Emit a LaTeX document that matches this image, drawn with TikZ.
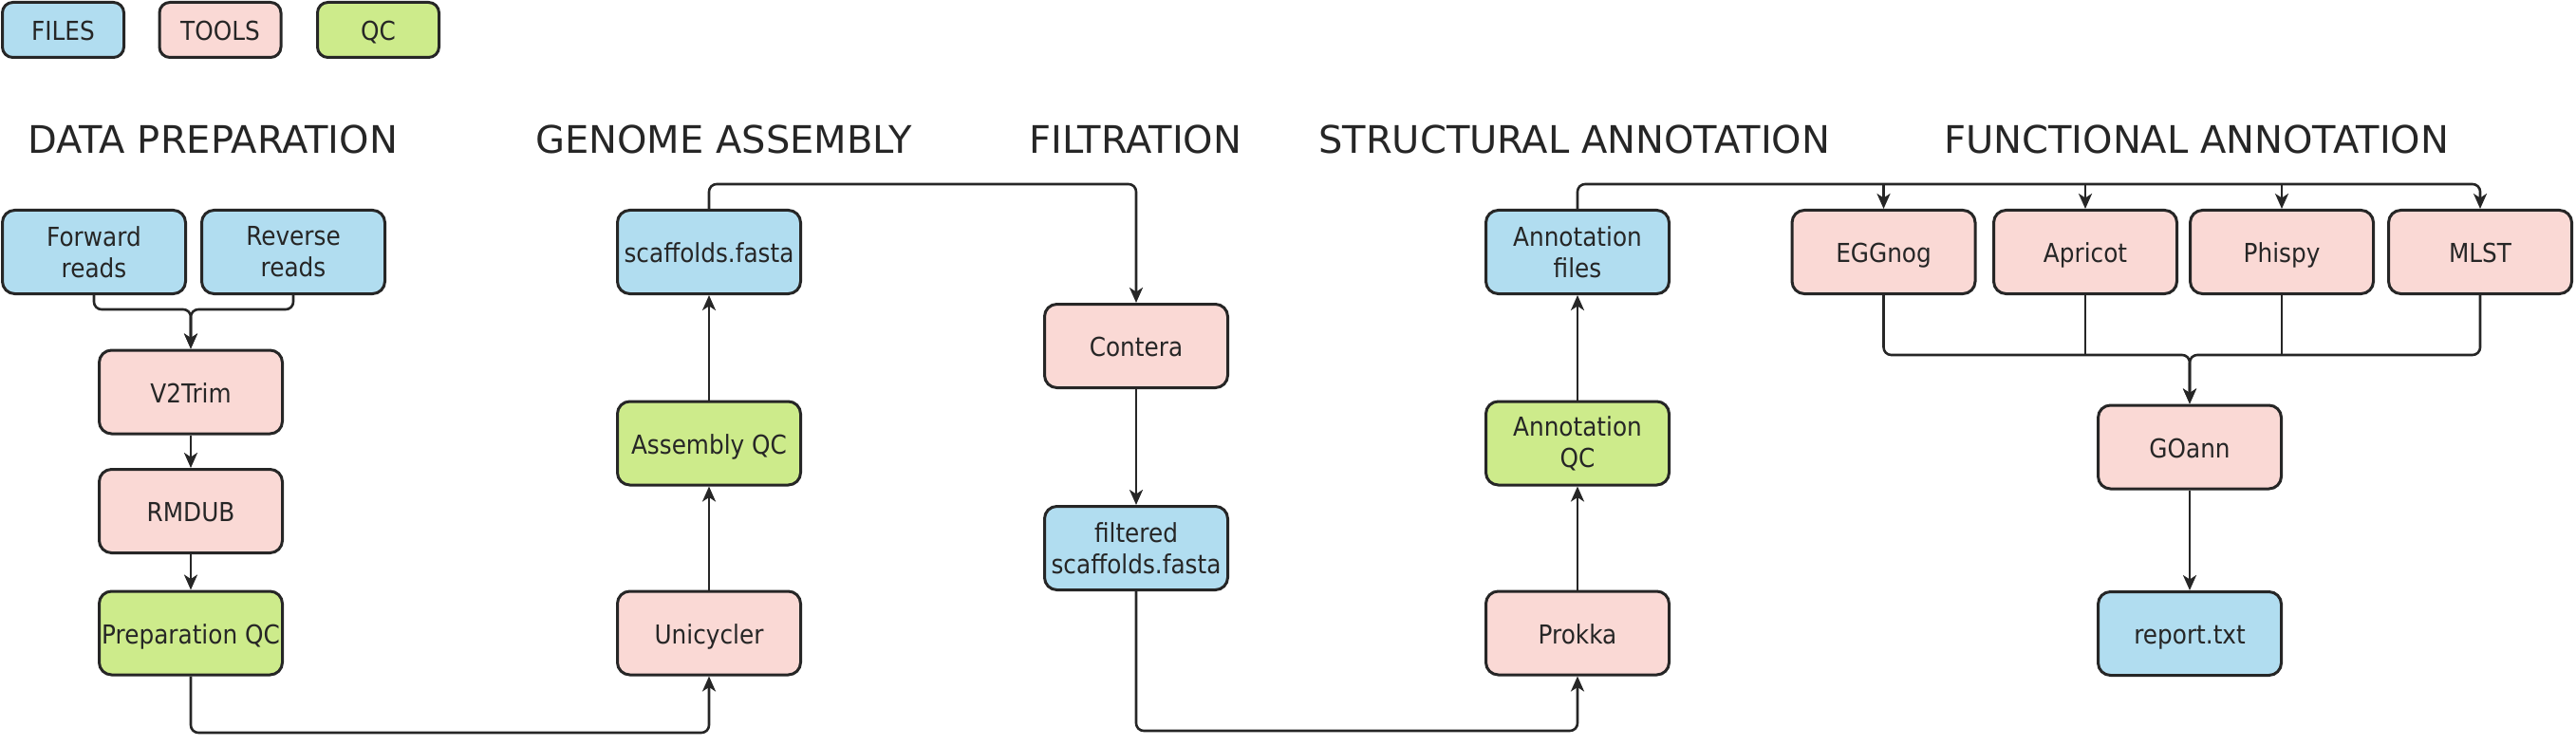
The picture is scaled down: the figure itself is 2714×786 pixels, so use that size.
\documentclass[tikz,border=0pt]{standalone}
\usepackage{fontspec}
\setmainfont{DejaVu Sans}
\newfontfamily\nodefont{DejaVu Sans}[FakeStretch=0.9]
\newfontfamily\headfont{DejaVu Sans}
\usetikzlibrary{arrows.meta}
\definecolor{fileblue}{HTML}{B1DDF0}
\definecolor{toolpink}{HTML}{FAD9D5}
\definecolor{qcgreen}{HTML}{CDEB8B}
\definecolor{linec}{HTML}{262626}
\definecolor{textc}{HTML}{262626}
\tikzset{
  box/.style={draw=linec, line width=3pt, rounded corners=13pt,
    minimum width=193pt, minimum height=88pt, inner sep=0pt, align=center,
    text=textc, font=\nodefont\fontsize{27.5}{33}\selectfont},
  one/.style={text height=23pt, text depth=1pt},
  legbox/.style={box, one, minimum width=128pt, minimum height=58pt, rounded corners=11pt},
  filebox/.style={box, fill=fileblue},
  toolbox/.style={box, fill=toolpink},
  qcbox/.style={box, fill=qcgreen},
  header/.style={anchor=base west, inner sep=0pt, text=textc,
    font=\headfont\fontsize{40}{48}\selectfont},
  conn/.style={draw=linec, line width=2.6pt, rounded corners=8pt},
  arr/.style={conn, -{Stealth[length=16pt,width=14pt,inset=4.5pt]}},
}
\begin{document}
\begin{tikzpicture}[x=1pt,y=-1pt]
\useasboundingbox (0,0) rectangle (2714,786);

% legend
\node[legbox, fill=fileblue] (lfiles) at (66.5,31.5) {FILES};
\node[legbox, fill=toolpink] (ltools) at (232,31.5) {TOOLS};
\node[legbox, fill=qcgreen] (lqc) at (398.5,31.5) {QC};

% headers
\node[header] (h1) at (29,162) {DATA PREPARATION};
\node[header] (h2) at (564,162) {GENOME ASSEMBLY};
\node[header] (h3) at (1084,162) {FILTRATION};
\node[header] (h4) at (1389,162) {STRUCTURAL ANNOTATION};
\node[header] (h5) at (2048,162) {FUNCTIONAL ANNOTATION};

% data preparation
\node[filebox] (fwd) at (99,265.5) {Forward\\reads};
\node[filebox] (rev) at (309,265.5) {Reverse\\reads};
\node[toolbox, one] (v2trim) at (201,413) {V2Trim};
\node[toolbox, one] (rmdub) at (201,538.5) {RMDUB};
\node[qcbox, one] (prepqc) at (201,667) {Preparation QC};

% genome assembly
\node[toolbox, one] (unicycler) at (747,667) {Unicycler};
\node[qcbox, one] (asmqc) at (747,467) {Assembly QC};
\node[filebox, one] (scaf) at (747,265.5) {scaffolds.fasta};

% filtration
\node[toolbox, one] (contera) at (1197,364.5) {Contera};
\node[filebox] (filt) at (1197,577.5) {filtered\\scaffolds.fasta};

% structural annotation
\node[toolbox, one] (prokka) at (1662,667) {Prokka};
\node[qcbox] (annqc) at (1662,467) {Annotation\\QC};
\node[filebox] (annfiles) at (1662,265.5) {Annotation\\files};

% functional annotation
\node[toolbox, one] (eggnog) at (1984.5,265.5) {EGGnog};
\node[toolbox, one] (apricot) at (2197,265.5) {Apricot};
\node[toolbox, one] (phispy) at (2404,265.5) {Phispy};
\node[toolbox, one] (mlst) at (2613,265.5) {MLST};
\node[toolbox, one] (goann) at (2307,471) {GOann};
\node[filebox, one] (report) at (2307,667.5) {report.txt};

% junction coordinates
\coordinate (j1) at (201,326);
\coordinate (j2) at (747,772);
\coordinate (j3) at (1197,194);
\coordinate (j4) at (1662,770);
\coordinate (j5) at (2613,194);
\coordinate (j6) at (2307,374);

% connectors
\draw[arr] (fwd.south) |- (j1) -- (v2trim.north);
\draw[arr] (rev.south) |- (j1) -- (v2trim.north);
\draw[arr] (v2trim) -- (rmdub);
\draw[arr] (rmdub) -- (prepqc);
\draw[arr] (prepqc.south) |- (j2) -- (unicycler.south);
\draw[arr] (unicycler) -- (asmqc);
\draw[arr] (asmqc) -- (scaf);
\draw[arr] (scaf.north) |- (j3) -- (contera.north);
\draw[arr] (contera) -- (filt);
\draw[arr] (filt.south) |- (j4) -- (prokka.south);
\draw[arr] (prokka) -- (annqc);
\draw[arr] (annqc) -- (annfiles);
\draw[arr] (annfiles.north) |- (j5) -- (mlst.north);
\draw[arr] (eggnog.north |- j5) -- (eggnog.north);
\draw[arr] (apricot.north |- j5) -- (apricot.north);
\draw[arr] (phispy.north |- j5) -- (phispy.north);
\draw[arr] (eggnog.south) |- (j6) -- (goann.north);
\draw[arr] (mlst.south) |- (j6) -- (goann.north);
\draw[conn] (apricot.south) -- (apricot.south |- j6);
\draw[conn] (phispy.south) -- (phispy.south |- j6);
\draw[arr] (goann) -- (report);
\end{tikzpicture}
\end{document}
